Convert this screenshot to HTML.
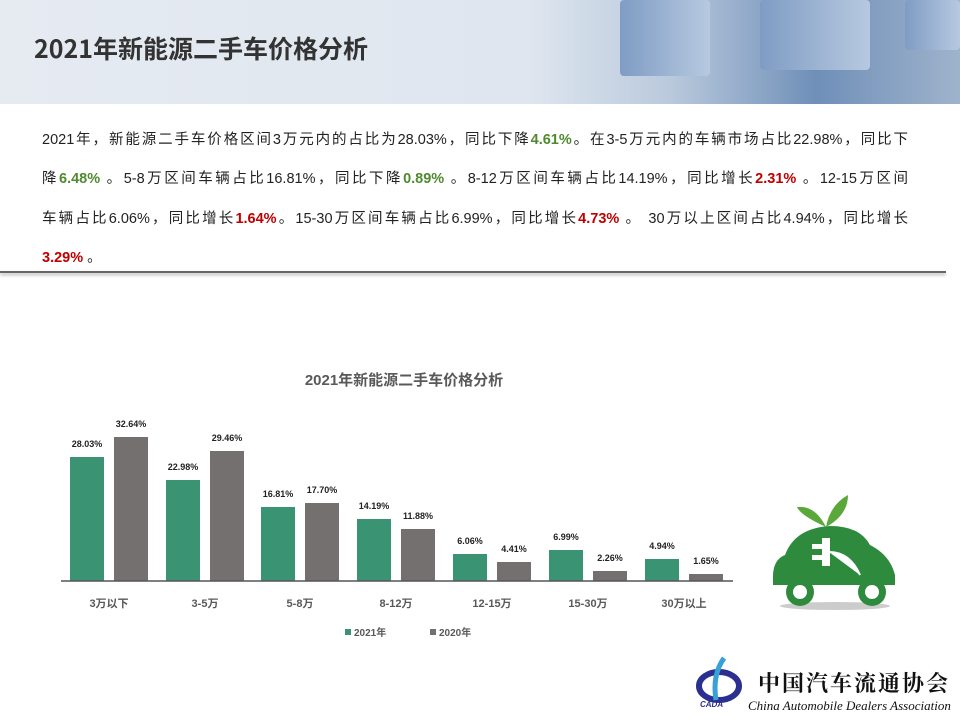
<!DOCTYPE html>
<html><head><meta charset="utf-8"><style>
body{margin:0;width:960px;height:720px;position:relative;background:#fff;font-family:"Liberation Sans","Noto Sans CJK SC",sans-serif;overflow:hidden}
.hdr{position:absolute;left:0;top:0;width:960px;height:104px;background:linear-gradient(90deg,#e6ebf2 0%,#dfe6ef 55%,#b9c9dc 70%,#6f8fb8 85%,#9fb3cc 100%)}
.box{position:absolute;background:linear-gradient(90deg,#7f9cc4,#b7c9e0);border-radius:4px}
.title{position:absolute;left:34px;top:30px;font-size:25px;font-weight:bold;color:#333;font-family:"Noto Sans CJK SC",sans-serif}
.para{position:absolute;left:42px;top:121px;width:866px;font-size:14.5px;line-height:39.3px;color:#222;font-family:"Liberation Sans","Noto Sans CJK SC",sans-serif}
.para div{text-align:justify;text-align-last:justify;white-space:nowrap}
.para div.l{text-align-last:left}
.g{color:#4f8a2e;font-weight:bold}.r{color:#c00000;font-weight:bold}
.sep{position:absolute;left:0;top:271px;width:946px;height:2px;background:#666;box-shadow:0 2px 3px #aaa}
</style></head><body>
<div class="hdr"></div>
<div class="box" style="left:620px;top:0;width:90px;height:76px"></div>
<div class="box" style="left:760px;top:0;width:110px;height:70px"></div>
<div class="box" style="left:905px;top:0;width:55px;height:50px"></div>
<div class="title">2021年新能源二手车价格分析</div>
<div class="para">
<div>2021年，新能源二手车价格区间3万元内的占比为28.03%，同比下降<span class="g">4.61%</span>。在3-5万元内的车辆市场占比22.98%，同比下</div>
<div>降<span class="g">6.48%</span> 。5-8万区间车辆占比16.81%，同比下降<span class="g">0.89%</span> 。8-12万区间车辆占比14.19%，同比增长<span class="r">2.31%</span> 。12-15万区间</div>
<div>车辆占比6.06%，同比增长<span class="r">1.64%</span>。15-30万区间车辆占比6.99%，同比增长<span class="r">4.73%</span> 。 30万以上区间占比4.94%，同比增长</div>
<div class="l"><span class="r">3.29%</span> 。</div>
</div>
<div class="sep"></div>
<svg style="position:absolute;left:0;top:0" width="960" height="720" font-family="Liberation Sans,Noto Sans CJK SC,sans-serif">
<text x="404" y="385" text-anchor="middle" font-size="15" font-weight="bold" fill="#595959">2021年新能源二手车价格分析</text>
<g font-size="9" font-weight="bold" fill="#222" text-anchor="middle">
<rect x="70" y="457" width="34" height="124" fill="#3a9474"/><rect x="114" y="437" width="34" height="144" fill="#757070"/>
<text x="87" y="447">28.03%</text><text x="131" y="427">32.64%</text>
<rect x="166" y="480" width="34" height="101" fill="#3a9474"/><rect x="210" y="451" width="34" height="130" fill="#757070"/>
<text x="183" y="470">22.98%</text><text x="227" y="441">29.46%</text>
<rect x="261" y="507" width="34" height="74" fill="#3a9474"/><rect x="305" y="503" width="34" height="78" fill="#757070"/>
<text x="278" y="497">16.81%</text><text x="322" y="493">17.70%</text>
<rect x="357" y="519" width="34" height="62" fill="#3a9474"/><rect x="401" y="529" width="34" height="52" fill="#757070"/>
<text x="374" y="509">14.19%</text><text x="418" y="519">11.88%</text>
<rect x="453" y="554" width="34" height="27" fill="#3a9474"/><rect x="497" y="562" width="34" height="19" fill="#757070"/>
<text x="470" y="544">6.06%</text><text x="514" y="552">4.41%</text>
<rect x="549" y="550" width="34" height="31" fill="#3a9474"/><rect x="593" y="571" width="34" height="10" fill="#757070"/>
<text x="566" y="540">6.99%</text><text x="610" y="561">2.26%</text>
<rect x="645" y="559" width="34" height="22" fill="#3a9474"/><rect x="689" y="574" width="34" height="7" fill="#757070"/>
<text x="662" y="549">4.94%</text><text x="706" y="564">1.65%</text>
</g>
<line x1="61" y1="581" x2="733" y2="581" stroke="#555" stroke-width="1.5"/>
<g font-size="11" font-weight="bold" fill="#595959" text-anchor="middle">
<text x="109" y="607">3万以下</text><text x="205" y="607">3-5万</text><text x="300" y="607">5-8万</text><text x="396" y="607">8-12万</text><text x="492" y="607">12-15万</text><text x="588" y="607">15-30万</text><text x="684" y="607">30万以上</text>
</g>
<rect x="345" y="629" width="6" height="6" fill="#3a9474"/><text x="354" y="636" font-size="10" font-weight="bold" fill="#595959">2021年</text>
<rect x="430" y="629" width="6" height="6" fill="#757070"/><text x="439" y="636" font-size="10" font-weight="bold" fill="#595959">2020年</text>
<ellipse cx="835" cy="606" rx="55" ry="4" fill="#ccc"/>
<path d="M773 580 Q772 560 785 555 Q795 528 830 526 Q860 526 870 545 Q890 555 895 575 L895 585 L773 585 Z" fill="#2e8b3e"/>
<circle cx="800" cy="592" r="14" fill="#2e8b3e"/><circle cx="800" cy="592" r="7" fill="#fff"/>
<circle cx="872" cy="592" r="14" fill="#2e8b3e"/><circle cx="872" cy="592" r="7" fill="#fff"/>
<path d="M813 545 h10 v-6 h6 v26 h-6 v-6 h-10 v-3 h10 v-8 h-10 z M829 552 Q850 552 860 575" fill="#fff" stroke="#fff" stroke-width="2"/>
<path d="M826 527 Q800 515 797 507 Q815 505 826 527 Z" fill="#5aa83a"/>
<path d="M826 527 Q830 505 848 495 Q848 515 826 527 Z" fill="#5aa83a"/>
<ellipse cx="719" cy="686" rx="20" ry="14" fill="none" stroke="#2b2f8f" stroke-width="6"/>
<path d="M724 658 Q712 675 716 700" stroke="#3aa0d8" stroke-width="5" fill="none"/>
<text x="700" y="707" font-size="8" font-weight="bold" font-style="italic" fill="#2b2f8f">CADA</text>
<text x="758" y="691" font-size="22" font-weight="bold" fill="#111" font-family="Noto Serif CJK SC,serif" letter-spacing="2">中国汽车流通协会</text>
<text x="748" y="710" font-size="13" font-style="italic" fill="#111" font-family="Liberation Serif,serif">China Automobile Dealers Association</text>
</svg>
</body></html>
